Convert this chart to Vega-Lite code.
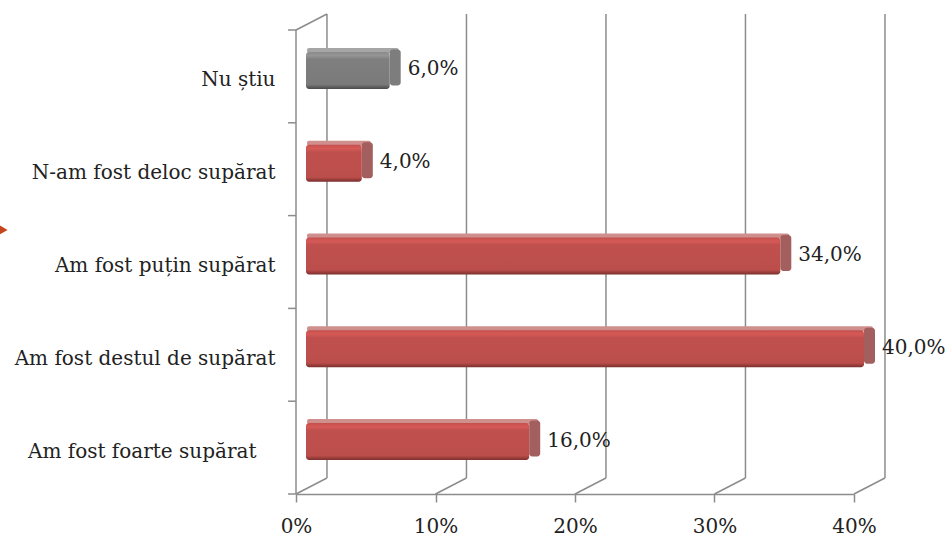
{
"$schema":"https://vega.github.io/schema/vega-lite/v6.json",
"width":558,"height":464,
"autosize":"none",
"padding":{"left":296,"top":30,"right":97,"bottom":44},
"background":"white",
"config":{"view":{"stroke":null},"font":"DejaVu Serif"},
"datasets":{
"bars":[
{"cat":"Nu știu","value":0.06,"zero":0,"label":"6,0%","tone":"grey"},
{"cat":"N-am fost deloc supărat","value":0.04,"zero":0,"label":"4,0%","tone":"red"},
{"cat":"Am fost puțin supărat","value":0.34,"zero":0,"label":"34,0%","tone":"red"},
{"cat":"Am fost destul de supărat","value":0.40,"zero":0,"label":"40,0%","tone":"red"},
{"cat":"Am fost foarte supărat\u00a0\u00a0\u00a0\u200b","value":0.16,"zero":0,"label":"16,0%","tone":"red"}
],
"walls":[
{"a":0,"a2":0.0222,"b":0,"b2":0.0345},
{"a":0.1,"a2":0.1222,"b":0,"b2":0.0345},
{"a":0.2,"a2":0.2222,"b":0,"b2":0.0345},
{"a":0.3,"a2":0.3222,"b":0,"b2":0.0345},
{"a":0.4,"a2":0.4222,"b":0,"b2":0.0345},
{"a":0,"a2":0.0222,"b":1,"b2":1.0345},
{"a":0.0222,"a2":0.0222,"b":0.0345,"b2":1.0345},
{"a":0.1222,"a2":0.1222,"b":0.0345,"b2":1.0345},
{"a":0.2222,"a2":0.2222,"b":0.0345,"b2":1.0345},
{"a":0.3222,"a2":0.3222,"b":0.0345,"b2":1.0345},
{"a":0.4222,"a2":0.4222,"b":0.0345,"b2":1.0345},
{"a":0,"a2":0,"b":1,"b2":0},
{"a":-0.0057,"a2":0,"b":1,"b2":1},
{"a":-0.0057,"a2":0,"b":0.8,"b2":0.8},
{"a":-0.0057,"a2":0,"b":0.6,"b2":0.6},
{"a":-0.0057,"a2":0,"b":0.4,"b2":0.4},
{"a":-0.0057,"a2":0,"b":0.2,"b2":0.2},
{"a":-0.0057,"a2":0,"b":0,"b2":0}
],
"arrow":[{"a":-0.2108,"b":0.569}]
},
"layer":[
{"data":{"name":"walls"},
 "mark":{"type":"rule","color":"#8c8c8c","strokeWidth":1.5},
 "encoding":{
  "x":{"field":"a","type":"quantitative","scale":{"domain":[0,0.4],"nice":false},
   "axis":{"values":[0,0.1,0.2,0.3,0.4],"format":".0%","title":null,"grid":false,"domainColor":"#8c8c8c","domainWidth":1.5,"tickColor":"#8c8c8c","tickWidth":1.5,"tickSize":8,"labelFontSize":20,"labelColor":"#222222","labelPadding":14,"labelFont":"DejaVu Serif","labelFlush":false}},
  "x2":{"field":"a2"},
  "y":{"field":"b","type":"quantitative","scale":{"domain":[0,1],"nice":false,"zero":false},"axis":null},
  "y2":{"field":"b2"}
 }
},
{"data":{"name":"arrow"},
 "mark":{"type":"point","shape":"triangle-right","filled":true,"size":170,"color":"#c4451c","opacity":1},
 "encoding":{
  "x":{"field":"a","type":"quantitative"},
  "y":{"field":"b","type":"quantitative","scale":{"domain":[0,1],"nice":false,"zero":false},"axis":null}
 }
},
{"data":{"name":"bars"},
 "encoding":{"y":{"field":"cat","type":"nominal","sort":null,"title":null,
    "axis":{"orient":"left","domain":false,"ticks":false,"labelFontSize":20,"labelColor":"#222222","labelPadding":21,"labelLimit":300,"labelOffset":4,"labelFont":"DejaVu Serif"}}},
 "layer":[
 {"mark":{"type":"bar","size":5,"yOffset":-26,"xOffset":11,"x2Offset":19,"cornerRadius":2},
  "encoding":{"x":{"field":"zero","type":"quantitative"},"x2":{"field":"value"},
   "color":{"condition":{"test":"datum.tone==='grey'","value":"#a6a6a6"},"value":"#cf8f8d"}}},
 {"mark":{"type":"bar","size":36,"yOffset":-9,"xOffset":10,"x2Offset":21,"cornerRadius":3},
  "encoding":{"x":{"field":"value","type":"quantitative"},"x2":{"field":"value"},
   "color":{"condition":{"test":"datum.tone==='grey'","value":"#7d7d7d"},"value":"#a25f5e"}}},
 {"mark":{"type":"bar","size":37,"yOffset":-6,"xOffset":10,"x2Offset":10,"cornerRadius":3},
  "encoding":{"x":{"field":"zero","type":"quantitative"},"x2":{"field":"value"},
   "color":{"condition":{"test":"datum.tone==='grey'",
     "value":{"gradient":"linear","x1":0,"y1":0,"x2":0,"y2":1,"stops":[{"offset":0,"color":"#8a8a8a"},{"offset":0.1,"color":"#959595"},{"offset":0.2,"color":"#7f7f7f"},{"offset":0.88,"color":"#7a7a7a"},{"offset":1,"color":"#4a4a4a"}]}},
    "value":{"gradient":"linear","x1":0,"y1":0,"x2":0,"y2":1,"stops":[{"offset":0,"color":"#c4504d"},{"offset":0.1,"color":"#d65a57"},{"offset":0.2,"color":"#c0504d"},{"offset":0.88,"color":"#bb4e4b"},{"offset":1,"color":"#7a2e2c"}]}}}},
 {"mark":{"type":"text","align":"left","baseline":"middle","dx":28,"dy":-7,"fontSize":20,"color":"#222222","font":"DejaVu Serif"},
  "encoding":{"x":{"field":"value","type":"quantitative"},
   "text":{"field":"label"}}}
 ]
}
],
"resolve":{"scale":{"y":"independent"}}
}
